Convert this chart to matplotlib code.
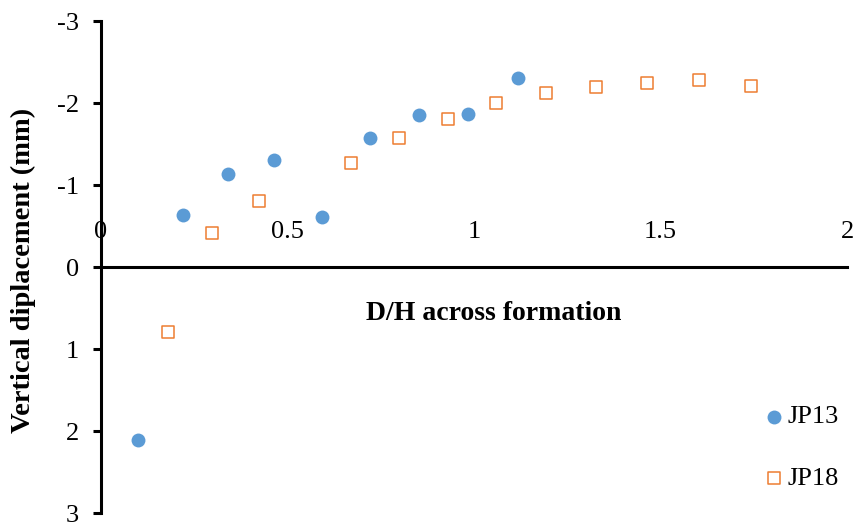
import matplotlib
matplotlib.use("Agg")
import matplotlib.pyplot as plt

plt.rcParams['font.family'] = ['Liberation Serif', 'DejaVu Serif']

# D/H across formation and vertical displacement (mm), negative = upward
jp13_x = [0.099, 0.220, 0.341, 0.465, 0.592, 0.720, 0.853, 0.984, 1.118]
jp13_y = [2.11, -0.63, -1.14, -1.31, -0.61, -1.57, -1.85, -1.86, -2.31]

jp18_x = [0.180, 0.298, 0.423, 0.670, 0.799, 0.930, 1.060, 1.193, 1.327, 1.464, 1.603, 1.743]
jp18_y = [0.79, -0.41, -0.81, -1.27, -1.57, -1.81, -2.00, -2.12, -2.20, -2.25, -2.28, -2.21]

x_ticks = [0, 0.5, 1, 1.5, 2]
x_tick_labels = ['0', '0.5', '1', '1.5', '2']
y_ticks = [-3, -2, -1, 0, 1, 2, 3]
y_tick_labels = ['-3', '-2', '-1', '0', '1', '2', '3']

W, H = 858, 527
fig = plt.figure(figsize=(W / 100, H / 100), dpi=100)
ax = fig.add_axes([101 / W, 1 - 513 / H, (847 - 101) / W, (513 - 21) / H])

ax.scatter(jp13_x, jp13_y, s=10 ** 2, marker='o', color='#5B9BD5',
           edgecolors='#5B9BD5', linewidths=0, label='JP13', zorder=3)
ax.scatter(jp18_x, jp18_y, s=8.3 ** 2, marker='s', facecolors='white',
           edgecolors='#ED7D31', linewidths=1.1, label='JP18', zorder=3)

ax.set_xlim(0, 2)
ax.set_ylim(3, -3)

# Axes cross at the origin; the horizontal one carries labels above it
ax.spines['bottom'].set_visible(False)
ax.spines['right'].set_visible(False)
ax.spines['top'].set_position(('data', 0))
ax.spines['left'].set_position(('data', 0))
for side in ('top', 'left'):
    ax.spines[side].set_linewidth(2.2)
    ax.spines[side].set_color('black')

ax.xaxis.set_ticks_position('top')
ax.set_xticks(x_ticks)
ax.set_xticklabels(x_tick_labels)
ax.tick_params(axis='x', length=0, pad=17, labelsize=19)
ax.set_yticks(y_ticks)
ax.set_yticklabels(y_tick_labels)
ax.tick_params(axis='y', direction='out', length=6, width=2.2, pad=10, labelsize=19)

fig.text(494 / W, 1 - 313 / H, 'D/H across formation', ha='center', va='center',
         fontsize=20, fontweight='bold')
fig.text(23 / W, 1 - 270 / H, 'Vertical diplacement (mm)', ha='center', va='center',
         rotation=90, fontsize=20.5, fontweight='bold')

leg = ax.legend(loc='upper left', bbox_to_anchor=(765 / W, 1 - 405 / H),
                bbox_transform=fig.transFigure, frameon=False, fontsize=19,
                handlelength=0.7, handletextpad=0.15, labelspacing=1.45,
                borderpad=0, borderaxespad=0)

fig.savefig('out.png', dpi=100, facecolor='white')
